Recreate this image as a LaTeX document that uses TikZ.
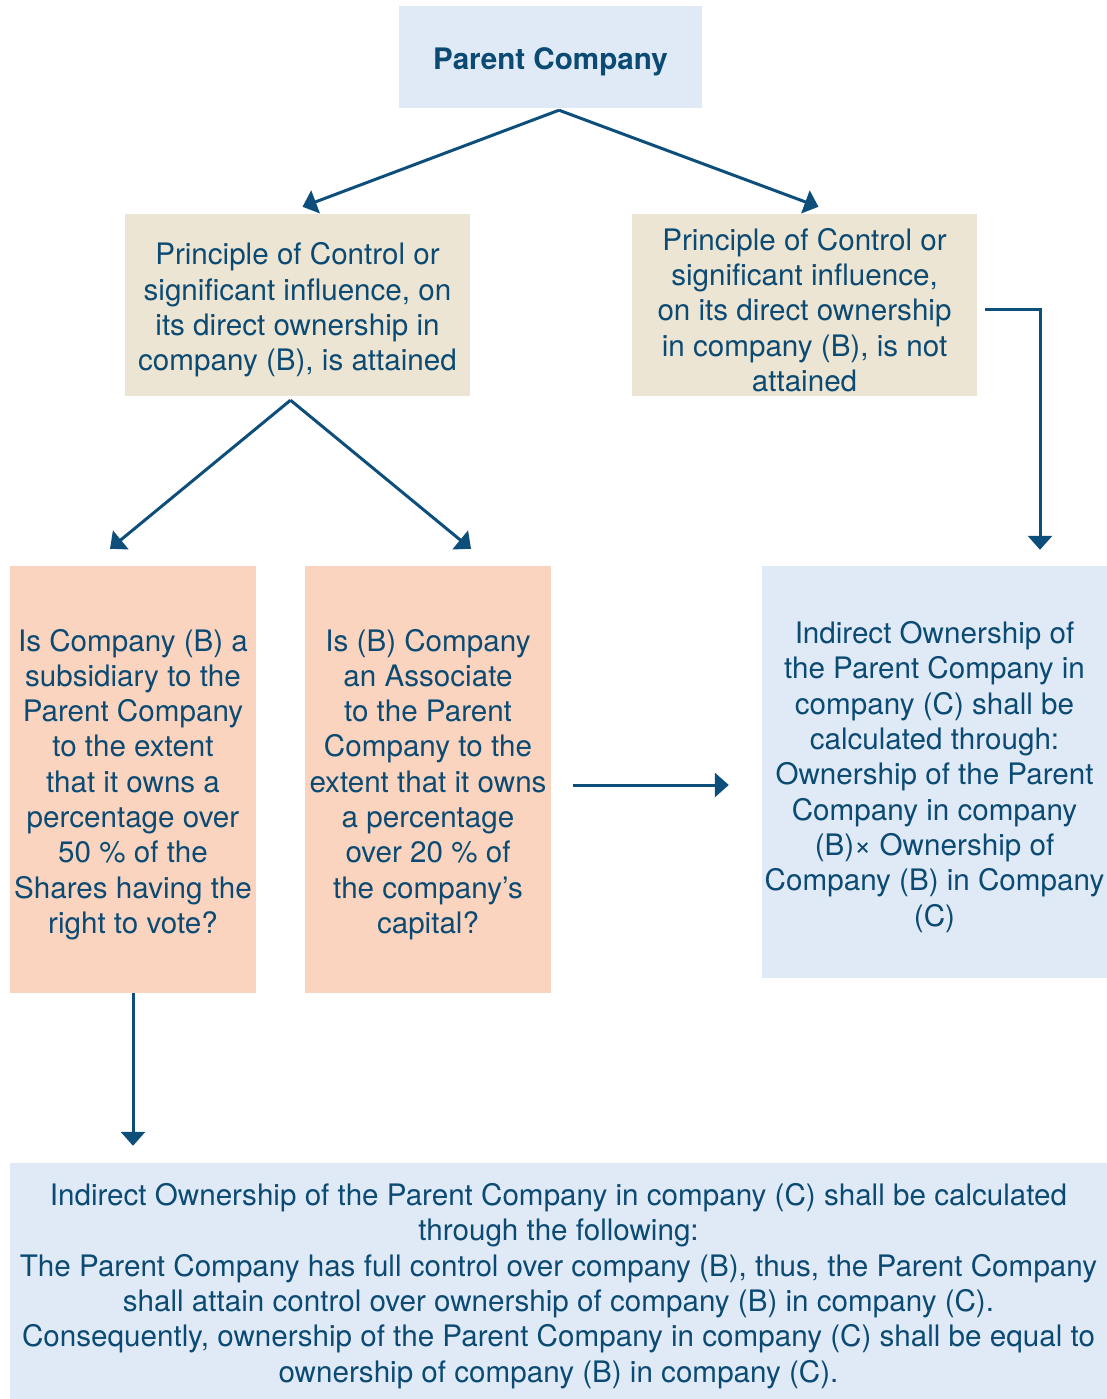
\documentclass[tikz,border=0pt]{standalone}
\usepackage{fontspec}
\setmainfont{TeX Gyre Heros}
\usetikzlibrary{arrows.meta}
\definecolor{inkblue}{HTML}{0B4A73}
\definecolor{arrowblue}{HTML}{0D4E7B}
\definecolor{paleblue}{HTML}{E0EAF6}
\definecolor{sand}{HTML}{EDE5D3}
\definecolor{peach}{HTML}{FAD4BF}
\newcommand{\firstline}{\rule{0pt}{32pt}}

\begin{document}
\begin{tikzpicture}[x=1pt,y=-1pt,
	box/.style={inner sep=0pt, align=center, text=inkblue,
		font=\fontsize{29.6}{35.3}\selectfont},
	arr/.style={arrowblue, line width=3pt, -{Triangle[width=24pt,length=14pt]}}]
		\useasboundingbox (0,0) rectangle (1107,1399);
		\node[box, fill=paleblue, minimum width=303, minimum height=102] (parent) at (550.5,57) {\firstline\bfseries Parent Company};
		\node[box, fill=sand, minimum width=345, minimum height=182] (ctrl) at (297.5,305) {\firstline Principle of Control or\\significant influence, on\\its direct ownership in\\company (B), is attained};
		\node[box, fill=sand, minimum width=345, minimum height=182] (notctrl) at (804.5,305) {\firstline Principle of Control or\\significant influence,\\on its direct ownership\\in company (B), is not\\attained};
		\node[box, fill=peach, minimum width=246, minimum height=427] (sub) at (133,779.5) {\firstline Is Company (B) a\\subsidiary to the\\Parent Company\\to the extent\\that it owns a\\percentage over\\50 \% of the\\Shares having the\\right to vote?};
		\node[box, fill=peach, minimum width=246, minimum height=427] (assoc) at (428,779.5) {\firstline Is (B) Company\\an Associate\\to the Parent\\Company to the\\extent that it owns\\a percentage\\over 20 \% of\\the company’s\\capital?};
		\node[box, fill=paleblue, minimum width=345, minimum height=412] (ind) at (934.5,772) {\firstline Indirect Ownership of\\the Parent Company in\\company (C) shall be\\calculated through:\\Ownership of the Parent\\Company in company\\(B)× Ownership of\\Company (B) in Company\\(C)};
		\node[box, fill=paleblue, minimum width=1097, minimum height=236] (bottom) at (558.5,1281) {\firstline Indirect Ownership of the Parent Company in company (C) shall be calculated\\through the following:\\The Parent Company has full control over company (B), thus, the Parent Company\\shall attain control over ownership of company (B) in company (C).\\Consequently, ownership of the Parent Company in company (C) shall be equal to\\ownership of company (B) in company (C).};
		\draw[arr] ([xshift=8.5,yshift=-2]parent.south) -- ([xshift=5,yshift=7]ctrl.north);
		\draw[arr] ([xshift=8.5,yshift=-2]parent.south) -- ([xshift=14,yshift=7]notctrl.north);
		\draw[arr] ([xshift=-7,yshift=-4]ctrl.south) -- ([xshift=-23,yshift=17]sub.north);
		\draw[arr] ([xshift=-7,yshift=-4]ctrl.south) -- ([xshift=43,yshift=17]assoc.north);
		\draw[arr] ([xshift=8,yshift=-4]notctrl.east) -| ([xshift=105.5,yshift=16]ind.north);
		\draw[arr] ([xshift=22,yshift=-5.5]assoc.east) -- ([xshift=-33,yshift=-13]ind.west);
		\draw[arr, shorten >=17pt] (sub.south) -- (sub.south |- bottom.north);
	\end{tikzpicture}
\end{document}
